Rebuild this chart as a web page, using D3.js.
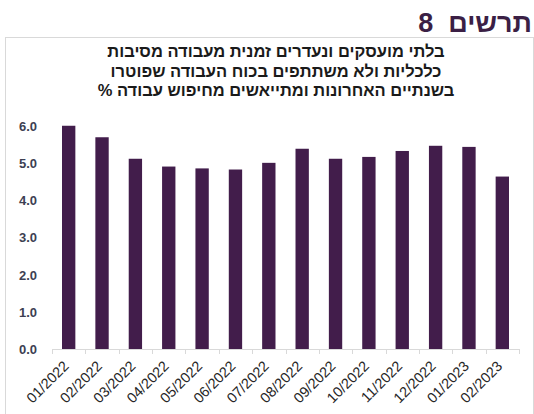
<!DOCTYPE html>
<html><head><meta charset="utf-8">
<script src="https://cdn.jsdelivr.net/npm/d3@7"></script>
<style>
html,body{margin:0;padding:0;background:#fff;}
svg{display:block;font-family:Arial,"Liberation Sans","DejaVu Sans",sans-serif;}
</style></head>
<body>
<svg id="chart" width="534" height="414"></svg>
<script>
const categories = ["01/2022","02/2022","03/2022","04/2022","05/2022","06/2022","07/2022","08/2022","09/2022","10/2022","11/2022","12/2022","01/2023","02/2023"];
const values = [6.02, 5.71, 5.13, 4.92, 4.87, 4.84, 5.02, 5.40, 5.13, 5.18, 5.34, 5.48, 5.45, 4.65];
const yTicks = [0,1,2,3,4,5,6];
const titleText = "תרשים\u00A0\u00A08";
const subtitleLines = [
  "בלתי מועסקים ונעדרים זמנית מעבודה מסיבות",
  "כלכליות ולא משתתפים בכוח העבודה שפוטרו",
  "בשנתיים האחרונות ומתייאשים מחיפוש עבודה %"
];

const svg = d3.select("#chart");
const pLeft = 52, pRight = 519, pTop = 126.5, pBottom = 349;

svg.append("rect").attr("x",5.5).attr("y",37.5).attr("width",528).attr("height",380)
  .attr("fill","none").attr("stroke","#d9d9d9").attr("stroke-width",1);

svg.append("text").attr("x",532).attr("y",32).attr("direction","rtl").attr("text-anchor","start")
  .attr("font-size",27).attr("font-weight","bold").attr("fill","#3b1f45").text(titleText);

svg.append("g").selectAll("text").data(subtitleLines).join("text")
  .attr("x",276).attr("y",(d,i)=>57+i*19.5).attr("text-anchor","middle").attr("direction","rtl")
  .attr("font-size",16.5).attr("font-weight","bold").attr("fill","#1a1a1a").text(d=>d);

const x = d3.scaleBand().domain(categories).range([pLeft,pRight]).padding(0);
const y = d3.scaleLinear().domain([0,6]).range([pBottom,pTop]);

svg.append("g").selectAll("rect").data(values).join("rect")
  .attr("x",(d,i)=>x(categories[i]) + x.bandwidth()*0.3)
  .attr("width",x.bandwidth()*0.4)
  .attr("y",d=>y(d)).attr("height",d=>y(0)-y(d))
  .attr("fill","#421d4b");

// y axis
const ya = svg.append("g").attr("transform",`translate(${pLeft},0)`)
  .call(d3.axisLeft(y).tickValues(yTicks).tickFormat(d3.format(".1f")).tickSize(0).tickPadding(15));
ya.select(".domain").remove();
ya.selectAll("text").attr("font-size",13).attr("font-weight","bold").attr("fill","#3d3f52")
  .attr("font-family","Arial,'Liberation Sans',sans-serif");

// x axis line + boundary ticks
const xa = svg.append("g");
xa.append("line").attr("x1",pLeft).attr("x2",pRight).attr("y1",pBottom+0.5).attr("y2",pBottom+0.5)
  .attr("stroke","#d9d9d9");
const bounds = categories.map(c=>x(c)).concat([pRight]);
xa.selectAll("line.t").data(bounds).join("line").attr("class","t")
  .attr("x1",d=>Math.round(d)+0.5).attr("x2",d=>Math.round(d)+0.5)
  .attr("y1",pBottom).attr("y2",pBottom+5).attr("stroke","#d9d9d9");
xa.selectAll("text").data(categories).join("text")
  .attr("transform",d=>`translate(${x(d)+x.bandwidth()/2+1},${pBottom+18}) rotate(-45)`)
  .attr("text-anchor","end").attr("font-size",14.5).attr("fill","#262626").text(d=>d);
</script>
</body></html>
